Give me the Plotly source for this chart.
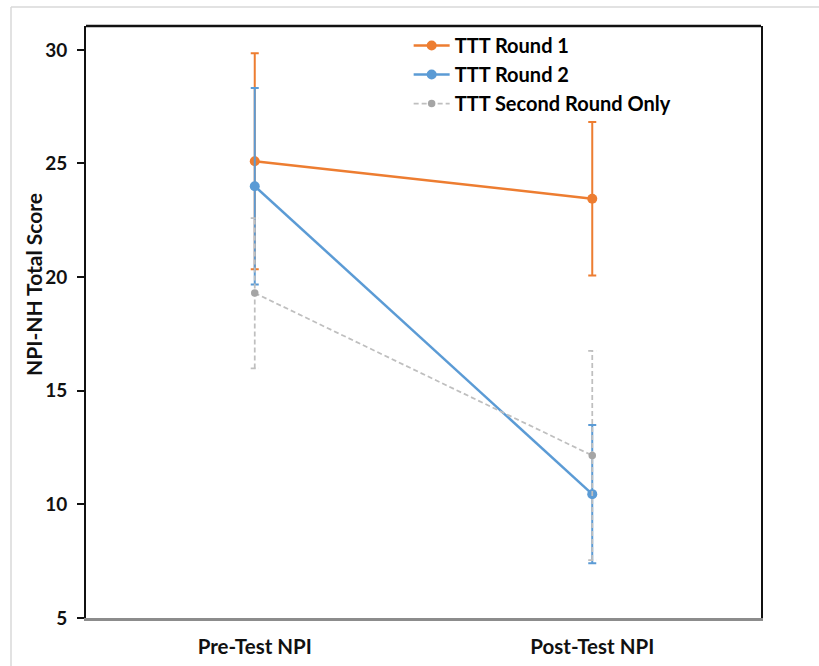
import plotly.graph_objects as go

categories = ["Pre-Test NPI", "Post-Test NPI"]
tick_vals = [5, 10, 15, 20, 25, 30]
y_title = "NPI-NH Total Score"

round1_mean = [25.1, 23.45]
round1_err = [4.75, 3.38]

round2_mean = [24.0, 10.45]
round2_err = [4.32, 3.04]

second_only_mean = [19.3, 12.15]
second_only_err_plus = [3.3, 4.6]
second_only_err_minus = [3.32, 4.6]

xpos = list(range(len(categories)))

ORANGE = "#ED7D31"
BLUE = "#5B9BD5"
GRAY_M = "#A5A5A5"
GRAY_L = "#BFBFBF"

fig = go.Figure()

fig.add_trace(go.Scatter(
    x=xpos, y=round1_mean, mode="lines+markers", name="TTT Round 1",
    line=dict(color=ORANGE, width=2.5),
    marker=dict(color=ORANGE, size=10),
    error_y=dict(type="data", array=round1_err, color=ORANGE, thickness=2, width=4),
))

fig.add_trace(go.Scatter(
    x=xpos, y=round2_mean, mode="lines+markers", name="TTT Round 2",
    line=dict(color=BLUE, width=2.5),
    marker=dict(color=BLUE, size=10),
    error_y=dict(type="data", array=round2_err, color=BLUE, thickness=2, width=4),
))

# dashed error bars for the gray series, built from the arrays
cap = 0.012
ex, ey = [], []
for xi, m, ep, em in zip(xpos, second_only_mean, second_only_err_plus, second_only_err_minus):
    lo, hi = m - em, m + ep
    ex += [xi, xi, None, xi - cap, xi + cap, None, xi - cap, xi + cap, None]
    ey += [lo, hi, None, hi, hi, None, lo, lo, None]
fig.add_trace(go.Scatter(
    x=ex, y=ey, mode="lines", showlegend=False, hoverinfo="skip",
    line=dict(color=GRAY_L, width=1.75, dash="5px,3px"),
))

fig.add_trace(go.Scatter(
    x=xpos, y=second_only_mean, mode="lines+markers", name="TTT Second Round Only",
    line=dict(color=GRAY_L, width=1.75, dash="5px,3px"),
    marker=dict(color=GRAY_M, size=7.5),
))

font_family = "Lato, 'Open Sans', Arial, sans-serif"

fig.update_layout(
    width=819, height=666,
    margin=dict(l=86, r=58, t=26, b=48),
    paper_bgcolor="white", plot_bgcolor="white",
    font=dict(family=font_family, color="#1a1a1a"),
    showlegend=True,
    legend=dict(
        x=0.478, y=1.0, xanchor="left", yanchor="top",
        font=dict(size=20, family=font_family, color="#000000", weight="bold"),
        bgcolor="rgba(0,0,0,0)", itemwidth=36, tracegroupgap=0,
    ),
    xaxis=dict(
        range=[-0.5, 1.5], tickmode="array", tickvals=xpos, ticktext=categories,
        showgrid=False, zeroline=False, showline=True, linecolor="#8c8c8c", linewidth=2.5,
        ticks="", ticklabelstandoff=9, automargin=False,
        tickfont=dict(size=20.5, weight="bold", color="#111111"),
    ),
    yaxis=dict(
        range=[5, 31.05], tickmode="array", tickvals=tick_vals,
        showgrid=False, zeroline=False, showline=True, linecolor="#111111", linewidth=2,
        mirror=True, ticks="outside", ticklen=7, tickcolor="#111111", tickwidth=1.5,
        ticklabelstandoff=6, automargin=False,
        tickfont=dict(size=19, weight="bold", color="#111111"),
    ),
    annotations=[
        dict(text=y_title, xref="paper", yref="paper", x=(33 - 86) / 675, y=1 - (285 - 26) / 592,
             xanchor="center", yanchor="middle", textangle=-90, showarrow=False,
             font=dict(size=21, weight="bold", color="#111111", family=font_family)),
    ],
    shapes=[
        dict(type="line", xref="paper", yref="paper", x0=0, x1=1, y0=1, y1=1,
             line=dict(color="#111111", width=2.5)),
        dict(type="line", xref="paper", yref="paper", x0=(11 - 86) / 675, x1=(819 - 86) / 675,
             y0=1 + (26 - 7) / 592, y1=1 + (26 - 7) / 592, line=dict(color="#d9d9d9", width=1.5)),
        dict(type="line", xref="paper", yref="paper", x0=(11 - 86) / 675, x1=(11 - 86) / 675,
             y0=1 + (26 - 7) / 592, y1=-(666 - 618) / 592, line=dict(color="#d9d9d9", width=1.5)),
    ],
)

fig.write_html("out.html", config={"displayModeBar": False},
               post_script="document.body.style.margin='0px';")
